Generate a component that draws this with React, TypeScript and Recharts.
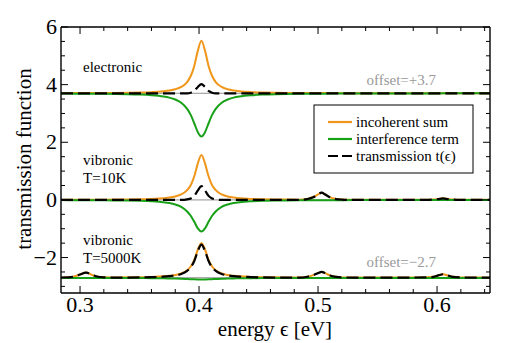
import React from 'react';
import { LineChart, Line, XAxis, YAxis, ReferenceLine } from 'recharts';

const energy = [0.284,0.29,0.295,0.3,0.305,0.31,0.315,0.32,0.33,0.34,0.35,0.36,0.37,0.375,0.38,0.385,0.39,0.393,0.396,0.399,0.402,0.405,0.408,0.411,0.414,0.419,0.424,0.429,0.434,0.444,0.454,0.464,0.474,0.484,0.491,0.496,0.5,0.503,0.506,0.51,0.515,0.52,0.53,0.545,0.56,0.575,0.59,0.597,0.601,0.605,0.609,0.613,0.62,0.63,0.6445];

const OFFSET_ELEC = 3.7;
const OFFSET_10K = 0;
const OFFSET_5000K = -2.7;

const elecIncoherent = [0.005,0.006,0.006,0.007,0.008,0.009,0.01,0.011,0.014,0.019,0.026,0.04,0.068,0.094,0.138,0.22,0.39,0.6,0.95,1.48,1.82,1.48,0.95,0.6,0.39,0.22,0.138,0.094,0.068,0.04,0.026,0.019,0.014,0.011,0.009,0.008,0.008,0.007,0.007,0.006,0.006,0.005,0.005,0.004,0.003,0.003,0.002,0.002,0.002,0.002,0.002,0.002,0.002,0.002,0.002];
const elecInterference = [-0.01,-0.011,-0.012,-0.013,-0.014,-0.015,-0.017,-0.018,-0.023,-0.031,-0.044,-0.066,-0.11,-0.15,-0.215,-0.33,-0.54,-0.75,-1.04,-1.35,-1.5,-1.35,-1.04,-0.75,-0.54,-0.33,-0.215,-0.15,-0.11,-0.066,-0.044,-0.031,-0.023,-0.018,-0.015,-0.014,-0.013,-0.012,-0.012,-0.011,-0.01,-0.009,-0.008,-0.007,-0.006,-0.005,-0.004,-0.004,-0.004,-0.003,-0.003,-0.003,-0.003,-0.003,-0.002];
const elecTransmission = [0,0,0,0,0,0,0,0,0,0,0,0,0,0,0,0,0,0.02,0.08,0.22,0.32,0.22,0.08,0.02,0,0,0,0,0,0,0,0,0,0,0,0,0,0,0,0,0,0,0,0,0,0,0,0,0,0,0,0,0,0,0];

const vib10Incoherent = [0.004,0.005,0.005,0.006,0.007,0.008,0.008,0.009,0.012,0.016,0.022,0.034,0.058,0.08,0.12,0.19,0.34,0.51,0.82,1.27,1.56,1.27,0.82,0.51,0.34,0.19,0.12,0.08,0.058,0.034,0.022,0.016,0.012,0.01,0.035,0.1,0.19,0.25,0.19,0.09,0.035,0.015,0.008,0.006,0.005,0.005,0.008,0.015,0.035,0.05,0.035,0.015,0.006,0.004,0.003];
const vib10Interference = [-0.007,-0.008,-0.009,-0.01,-0.01,-0.011,-0.012,-0.013,-0.017,-0.023,-0.032,-0.048,-0.08,-0.11,-0.16,-0.24,-0.4,-0.55,-0.76,-0.99,-1.1,-0.99,-0.76,-0.55,-0.4,-0.24,-0.16,-0.11,-0.08,-0.048,-0.032,-0.023,-0.017,-0.013,-0.011,-0.01,-0.01,-0.01,-0.01,-0.009,-0.008,-0.008,-0.007,-0.006,-0.005,-0.004,-0.004,-0.003,-0.003,-0.003,-0.003,-0.003,-0.002,-0.002,-0.002];
const vib10Transmission = [0,0,0,0,0,0,0,0,0,0,0,0,0,0,0,0,0.02,0.05,0.14,0.33,0.48,0.33,0.14,0.05,0.02,0,0,0,0,0,0,0,0,0,0.03,0.09,0.19,0.25,0.19,0.09,0.03,0.012,0,0,0,0,0,0.012,0.03,0.05,0.03,0.012,0,0,0];

const vib5000Incoherent = [0.008,0.015,0.04,0.11,0.18,0.1,0.035,0.015,0.01,0.013,0.018,0.028,0.048,0.065,0.095,0.15,0.26,0.39,0.62,0.98,1.2,0.98,0.62,0.39,0.26,0.15,0.095,0.065,0.048,0.028,0.018,0.013,0.01,0.01,0.035,0.09,0.16,0.2,0.16,0.08,0.03,0.012,0.006,0.005,0.005,0.006,0.012,0.03,0.08,0.12,0.08,0.03,0.01,0.005,0.003];
const vib5000Interference = [-0.01,-0.01,-0.01,-0.01,-0.01,-0.01,-0.01,-0.01,-0.01,-0.01,-0.012,-0.015,-0.02,-0.024,-0.03,-0.038,-0.045,-0.05,-0.055,-0.058,-0.06,-0.058,-0.055,-0.05,-0.045,-0.038,-0.03,-0.024,-0.02,-0.015,-0.012,-0.01,-0.01,-0.01,-0.01,-0.01,-0.01,-0.01,-0.01,-0.01,-0.01,-0.01,-0.01,-0.01,-0.01,-0.01,-0.01,-0.01,-0.01,-0.01,-0.01,-0.01,-0.01,-0.01,-0.01];
const vib5000Transmission = [0.008,0.015,0.04,0.11,0.18,0.1,0.035,0.015,0.005,0.006,0.01,0.02,0.038,0.055,0.08,0.13,0.24,0.36,0.58,0.93,1.15,0.93,0.58,0.36,0.24,0.13,0.08,0.055,0.038,0.02,0.01,0.006,0.005,0.005,0.035,0.09,0.16,0.2,0.16,0.08,0.03,0.012,0.006,0.005,0.005,0.006,0.012,0.03,0.08,0.12,0.08,0.03,0.01,0.005,0.003];

const xMajorTicks = [0.3, 0.4, 0.5, 0.6];
const xTicks = [0.3,0.32,0.34,0.36,0.38,0.4,0.42,0.44,0.46,0.48,0.5,0.52,0.54,0.56,0.58,0.6,0.62,0.64];
const yMajorTicks = [-2, 0, 2, 4, 6];
const yTicks = [-3,-2.5,-2,-1.5,-1,-0.5,0,0.5,1,1.5,2,2.5,3,3.5,4,4.5,5,5.5,6];

const groupLabels = [
  { lines: ['electronic'], y: 72 },
  { lines: ['vibronic', 'T=10K'], y: 165 },
  { lines: ['vibronic', 'T=5000K'], y: 245 },
];
const offsetLabels = [
  { text: 'offset=+3.7', y: 85 },
  { text: 'offset=\u22122.7', y: 267 },
];
const legendItems = [
  { name: 'incoherent sum', color: '#F0961A', dash: undefined as string | undefined },
  { name: 'interference term', color: '#18A018', dash: undefined as string | undefined },
  { name: 'transmission t(\u03F5)', color: '#000000', dash: '10 4' },
];

const ORANGE = '#F0961A';
const GREEN = '#18A018';
const DASH = '12 5';
const FONT = "'Liberation Serif'";
const fontStyle = { fontFamily: FONT };

const data = energy.map((x, i) => ({
  x,
  eInc: elecIncoherent[i] + OFFSET_ELEC,
  eInt: elecInterference[i] + OFFSET_ELEC,
  eTot: elecTransmission[i] + OFFSET_ELEC,
  aInc: vib10Incoherent[i] + OFFSET_10K,
  aInt: vib10Interference[i] + OFFSET_10K,
  aTot: vib10Transmission[i] + OFFSET_10K,
  bInc: vib5000Incoherent[i] + OFFSET_5000K,
  bInt: vib5000Interference[i] + OFFSET_5000K,
  bTot: vib5000Transmission[i] + OFFSET_5000K,
}));

const near = (v: number, list: number[]) => list.some((m) => Math.abs(m - v) < 1e-6);
const fmt = (v: number) => (v < 0 ? '\u2212' + String(-v) : String(v));

const BottomTick = (p: any) => {
  const { x, y, payload } = p;
  const major = near(payload.value, xMajorTicks);
  return (
    <g>
      <line x1={x} x2={x} y1={y} y2={y - (major ? 7 : 4)} stroke="#000" strokeWidth={1} />
      {major && (
        <text x={x} y={y + 19} textAnchor="middle" fontSize={22} style={fontStyle} fill="#000">
          {fmt(payload.value)}
        </text>
      )}
    </g>
  );
};
const TopTick = (p: any) => {
  const { x, y, payload } = p;
  const major = near(payload.value, xMajorTicks);
  return <line x1={x} x2={x} y1={y} y2={y + (major ? 7 : 4)} stroke="#000" strokeWidth={1} />;
};
const LeftTick = (p: any) => {
  const { x, y, payload } = p;
  const major = near(payload.value, yMajorTicks);
  return (
    <g>
      <line x1={x} x2={x + (major ? 7 : 4)} y1={y} y2={y} stroke="#000" strokeWidth={1} />
      {major && (
        <text x={x - 4} y={y + 7} textAnchor="end" fontSize={22} style={fontStyle} fill="#000">
          {fmt(payload.value)}
        </text>
      )}
    </g>
  );
};
const RightTick = (p: any) => {
  const { x, y, payload } = p;
  const major = near(payload.value, yMajorTicks);
  return <line x1={x} x2={x - (major ? 7 : 4)} y1={y} y2={y} stroke="#000" strokeWidth={1} />;
};

const axisLine = { stroke: '#000', strokeWidth: 1.4 };

export default function App() {
  const lineCommon = { xAxisId: 'b', yAxisId: 'l', type: 'monotone' as const, dot: false, isAnimationActive: false, activeDot: false };
  return (
    <div style={{ position: 'absolute', left: 0, top: 0, width: 524, height: 343, background: '#fff' }}>
      <LineChart width={524} height={343} data={data} margin={{ top: 26, right: 33, bottom: 20, left: 21 }}>
        <XAxis xAxisId="b" dataKey="x" type="number" domain={[0.284, 0.6445]} ticks={xTicks} interval={0}
          tickLine={false} tickSize={0} tickMargin={0} axisLine={axisLine} tick={<BottomTick />} height={30} allowDataOverflow />
        <XAxis xAxisId="t" orientation="top" dataKey="x" type="number" domain={[0.284, 0.6445]} ticks={xTicks} interval={0}
          tickLine={false} tickSize={0} tickMargin={0} axisLine={axisLine} tick={<TopTick />} height={1} allowDataOverflow />
        <YAxis yAxisId="l" type="number" domain={[-3.23, 6]} ticks={yTicks} interval={0}
          tickLine={false} tickSize={0} tickMargin={0} axisLine={axisLine} tick={<LeftTick />} width={40} allowDataOverflow />
        <YAxis yAxisId="r" orientation="right" type="number" domain={[-3.23, 6]} ticks={yTicks} interval={0}
          tickLine={false} tickSize={0} tickMargin={0} axisLine={axisLine} tick={<RightTick />} width={1} allowDataOverflow />
        <ReferenceLine xAxisId="b" yAxisId="l" y={OFFSET_ELEC} stroke="#777" strokeWidth={0.8} />
        <ReferenceLine xAxisId="b" yAxisId="l" y={OFFSET_10K} stroke="#777" strokeWidth={0.8} />
        <ReferenceLine xAxisId="b" yAxisId="l" y={OFFSET_5000K} stroke="#777" strokeWidth={0.8} />
        <Line {...lineCommon} dataKey="eInc" stroke={ORANGE} strokeWidth={2} />
        <Line {...lineCommon} dataKey="eInt" stroke={GREEN} strokeWidth={2} />
        <Line {...lineCommon} dataKey="eTot" stroke="#000" strokeWidth={2.2} strokeDasharray={DASH} />
        <Line {...lineCommon} dataKey="aInc" stroke={ORANGE} strokeWidth={2} />
        <Line {...lineCommon} dataKey="aInt" stroke={GREEN} strokeWidth={2} />
        <Line {...lineCommon} dataKey="aTot" stroke="#000" strokeWidth={2.2} strokeDasharray={DASH} />
        <Line {...lineCommon} dataKey="bInc" stroke={ORANGE} strokeWidth={2} />
        <Line {...lineCommon} dataKey="bInt" stroke={GREEN} strokeWidth={2} />
        <Line {...lineCommon} dataKey="bTot" stroke="#000" strokeWidth={2.2} strokeDasharray={DASH} />
      </LineChart>
      <svg width={524} height={343} style={{ position: 'absolute', left: 0, top: 0, pointerEvents: 'none' }}>
        <text transform="translate(31,159) rotate(-90)" textAnchor="middle" fontSize={21} style={fontStyle} fill="#000">
          transmission function
        </text>
        <text x={275} y={336} textAnchor="middle" fontSize={21} style={fontStyle} fill="#000">
          energy {'\u03F5'} [eV]
        </text>
        {groupLabels.map((g, gi) =>
          g.lines.map((t, li) => (
            <text key={gi + '-' + li} x={83} y={g.y + li * 18} fontSize={15} style={fontStyle} fill="#000">
              {t}
            </text>
          ))
        )}
        {offsetLabels.map((o, i) => (
          <text key={i} x={436} y={o.y} textAnchor="end" fontSize={15} style={fontStyle} fill="#999">
            {o.text}
          </text>
        ))}
        <rect x={314} y={105} width={159} height={68} fill="#fff" stroke="#000" strokeWidth={1} />
        {legendItems.map((it, i) => (
          <g key={i}>
            <line x1={328} x2={352} y1={122 + i * 17} y2={122 + i * 17} stroke={it.color} strokeWidth={2.2} strokeDasharray={it.dash} />
            <text x={356} y={127 + i * 17} fontSize={15} style={fontStyle} fill="#000">
              {it.name}
            </text>
          </g>
        ))}
      </svg>
    </div>
  );
}
